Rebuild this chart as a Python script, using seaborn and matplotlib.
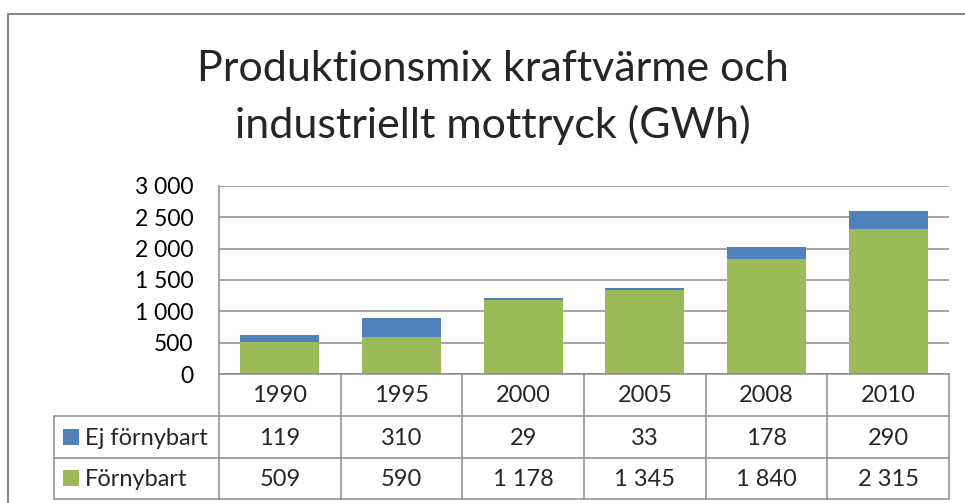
import matplotlib
matplotlib.use("Agg")
import pandas as pd
import matplotlib.pyplot as plt
import seaborn as sns
from matplotlib.lines import Line2D
from matplotlib.patches import Rectangle

years = ["1990", "1995", "2000", "2005", "2008", "2010"]
ej_fornybart = [119, 310, 29, 33, 178, 290]
fornybart = [509, 590, 1178, 1345, 1840, 2315]
series_names = ["Ej förnybart", "Förnybart"]
yticks = [0, 500, 1000, 1500, 2000, 2500, 3000]
title_lines = ["Produktionsmix kraftvärme och", "industriellt mottryck (GWh)"]

BLUE = "#4F81BD"
GREEN = "#9BBB59"
GRID = "#8C8C8C"
LINE = "#8C8C8C"


def fmt(v):
    return f"{v:,}".replace(",", " ")


df = pd.DataFrame({"year": years, "ej": ej_fornybart, "forn": fornybart})
df["total"] = df["ej"] + df["forn"]

sns.set_theme(style="white")
plt.rcParams["font.family"] = ["Lato", "DejaVu Sans"]

W, H = 965, 503
fig = plt.figure(figsize=(W / 100, H / 100), dpi=100)
fig.patch.set_facecolor("white")

# plot area in pixels
L, R, T, B = 219, 949, 185.7, 374.3
ax = fig.add_axes([L / W, 1 - B / H, (R - L) / W, (B - T) / H])

# stacked bars: total in blue, renewable in green on top of it
sns.barplot(data=df, x="year", y="total", order=years, color=BLUE, width=0.65,
            saturation=1, errorbar=None, linewidth=0, ax=ax)
sns.barplot(data=df, x="year", y="forn", order=years, color=GREEN, width=0.65,
            saturation=1, errorbar=None, linewidth=0, ax=ax)

ax.set_xlim(-0.5, len(years) - 0.5)
ax.set_ylim(0, 3000)
ax.set_yticks(yticks)
ax.set_yticklabels([fmt(v) for v in yticks])
ax.set_xticks([])
ax.set_xlabel("")
ax.set_ylabel("")
ax.tick_params(axis="y", length=0, pad=18.5, labelsize=16.5, labelcolor="black")
ax.yaxis.grid(True, color=GRID, linewidth=1.1)
ax.set_axisbelow(True)
for s in ["top", "right"]:
    ax.spines[s].set_visible(False)
for s in ["left", "bottom"]:
    ax.spines[s].set_color(LINE)
    ax.spines[s].set_linewidth(1.1)


def px(x, y):
    return x / W, 1 - y / H


def hline(x0, x1, y, **kw):
    (a, b), (c, d) = px(x0, y), px(x1, y)
    fig.add_artist(Line2D([a, c], [b, d], transform=fig.transFigure, **kw))


def vline(x, y0, y1, **kw):
    (a, b), (c, d) = px(x, y0), px(x, y1)
    fig.add_artist(Line2D([a, c], [b, d], transform=fig.transFigure, **kw))


# data table below the plot
rows = [B, 416, 457.5, 499]
leg_left = 54
col_w = (R - L) / len(years)
cols = [L + i * col_w for i in range(len(years) + 1)]
lk = dict(color=LINE, linewidth=1.1)
for y in rows[1:]:
    hline(leg_left, R, y, **lk)
for i, x in enumerate(cols):
    vline(x, rows[0], rows[-1], **lk)
vline(leg_left, rows[1], rows[-1], **lk)

fs = 17
baselines = [402, 445, 486]
for i, yr in enumerate(years):
    cx = (cols[i] + cols[i + 1]) / 2
    fig.text(*px(cx, baselines[0]), yr, ha="center", va="baseline", fontsize=fs)
    fig.text(*px(cx, baselines[1]), fmt(ej_fornybart[i]), ha="center", va="baseline", fontsize=fs)
    fig.text(*px(cx, baselines[2]), fmt(fornybart[i]), ha="center", va="baseline", fontsize=fs)

for name, color, bl in zip(series_names, [BLUE, GREEN], baselines[1:]):
    x0, y0 = px(63, bl)
    fig.add_artist(Rectangle((x0, y0), 16 / W, 16 / H, transform=fig.transFigure,
                             facecolor=color, edgecolor="none"))
    fig.text(*px(85, bl), name, ha="left", va="baseline", fontsize=fs)

# title
fig.text(*px(493, 81), title_lines[0], ha="center", va="baseline", fontsize=31)
fig.text(*px(493, 138), title_lines[1], ha="center", va="baseline", fontsize=31)

# chart frame (extends past the right and bottom edges)
hline(8, W + 5, 14, color="#888888", linewidth=1.5)
vline(8, 14, H + 5, color="#888888", linewidth=1.5)

fig.savefig("out.png", dpi=100)
